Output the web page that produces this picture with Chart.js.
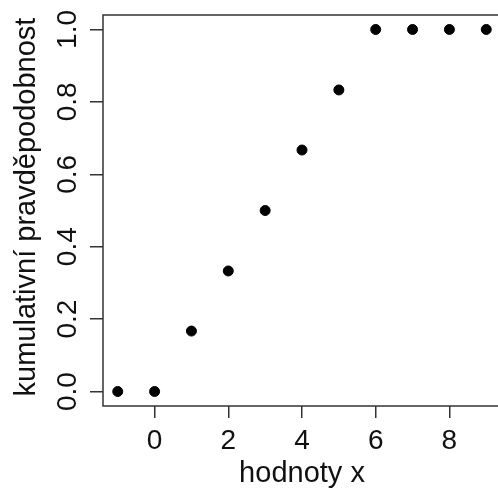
<!DOCTYPE html>
<html>
<head>
<meta charset="utf-8">
<script src="https://cdn.jsdelivr.net/npm/chart.js@4"></script>
<style>
  html, body { margin: 0; padding: 0; background: #fff; overflow: hidden; }
  #wrap { width: 507px; height: 488px; }
</style>
</head>
<body>
<div id="wrap"><canvas id="cdfChart" width="507" height="488"></canvas></div>
<script>
const xValues = [-1, 0, 1, 2, 3, 4, 5, 6, 7, 8, 9];
const cumProb = [0, 0, 0.167, 0.333, 0.5, 0.667, 0.833, 1, 1, 1, 1];
const xTicks = [0, 2, 4, 6, 8];
const yTicks = [0, 0.2, 0.4, 0.6, 0.8, 1.0];
const yTickLabels = ['0.0', '0.2', '0.4', '0.6', '0.8', '1.0'];
const xTitle = 'hodnoty x';
const yTitle = 'kumulativní pravděpodobnost';

const TICK_FONT = '28px "Liberation Sans", Arial, sans-serif';
const TITLE_FONT = '29px "Liberation Sans", Arial, sans-serif';
const INK = '#111';

// box, tick labels and axis titles drawn R-style
const rBase = {
    id: 'rBase',
    afterDraw(chart) {
        const ctx = chart.ctx;
        const a = chart.chartArea;
        const xs = chart.scales.x;
        const ys = chart.scales.y;
        ctx.save();
        ctx.strokeStyle = '#333';
        ctx.lineWidth = 1.5;
        ctx.strokeRect(a.left, a.top, a.right - a.left, a.bottom - a.top);

        ctx.fillStyle = INK;
        ctx.textAlign = 'center';
        ctx.textBaseline = 'alphabetic';
        ctx.font = TICK_FONT;
        xTicks.forEach(v => {
            ctx.fillText(String(v), xs.getPixelForValue(v), 449);
        });
        yTicks.forEach((v, i) => {
            ctx.save();
            ctx.translate(76, ys.getPixelForValue(v));
            ctx.rotate(-Math.PI / 2);
            ctx.fillText(yTickLabels[i], 0, 0);
            ctx.restore();
        });

        ctx.font = TITLE_FONT;
        ctx.fillText(xTitle, (a.left + a.right) / 2, 482);
        ctx.save();
        ctx.translate(35, 207);
        ctx.rotate(-Math.PI / 2);
        ctx.fillText(yTitle, 0, 0);
        ctx.restore();
        ctx.restore();
    }
};

new Chart(document.getElementById('cdfChart').getContext('2d'), {
    type: 'scatter',
    data: {
        datasets: [{
            data: xValues.map((x, i) => ({ x: x, y: cumProb[i] })),
            backgroundColor: '#000',
            borderColor: '#000',
            pointRadius: 5,
            pointHoverRadius: 5,
            clip: false
        }]
    },
    options: {
        responsive: false,
        animation: false,
        layout: { padding: { top: 15, left: 0, right: 0, bottom: 0 } },
        plugins: { legend: { display: false }, tooltip: { enabled: false } },
        scales: {
            x: {
                type: 'linear',
                min: -1.4,
                max: 9.4,
                afterBuildTicks: s => { s.ticks = xTicks.map(v => ({ value: v })); },
                afterFit: s => { s.height = 82; },
                ticks: { color: 'rgba(0,0,0,0)' },
                grid: { drawOnChartArea: false, drawTicks: true, tickLength: 12, color: '#333', lineWidth: 1.5 },
                border: { display: false }
            },
            y: {
                type: 'linear',
                min: -0.04,
                max: 1.04,
                afterBuildTicks: s => { s.ticks = yTicks.map(v => ({ value: v })); },
                afterFit: s => { s.width = 103; },
                ticks: { color: 'rgba(0,0,0,0)' },
                grid: { drawOnChartArea: false, drawTicks: true, tickLength: 13, color: '#333', lineWidth: 1.5 },
                border: { display: false }
            }
        }
    },
    plugins: [rBase]
});
</script>
</body>
</html>
